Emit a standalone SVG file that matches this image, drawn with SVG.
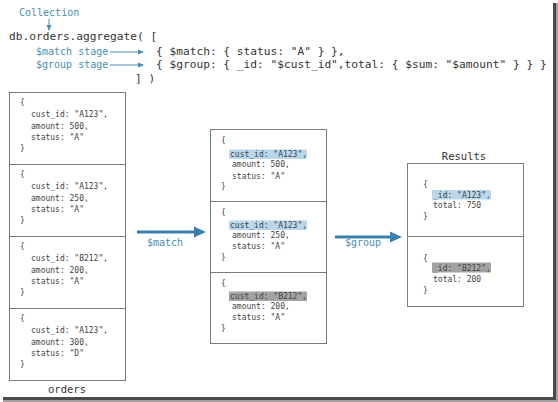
<svg xmlns="http://www.w3.org/2000/svg" width="558" height="402" viewBox="0 0 558 402">
<style>
.code{font-family:"DejaVu Sans Mono","Liberation Mono",monospace;font-size:11.2px;fill:#333}
.lbl{font-family:"DejaVu Sans Mono","Liberation Mono",monospace;font-size:10px;fill:#4a8db5}
.doc{font-family:"DejaVu Sans Mono","Liberation Mono",monospace;font-size:8px;fill:#444}
.title{font-family:"DejaVu Sans Mono","Liberation Mono",monospace;font-size:10.5px;fill:#333}
.box{fill:#fff;stroke:#7a7a7a;stroke-width:1}
.hb{fill:#b8d7ec}
.hg{fill:#a3a3a3}
.thin{stroke:#4a8db5;stroke-width:1;fill:none}
.thick{stroke:#3a80ad;stroke-width:3;fill:none}
</style>
<defs>
<marker id="sm" markerWidth="6" markerHeight="6" refX="5" refY="3" orient="auto" markerUnits="userSpaceOnUse">
<path d="M0,0.5 L6,3 L0,5.5 Z" fill="#4a8db5"/>
</marker>
</defs>
<rect width="558" height="402" fill="#fff"/>
<!-- frame shadow -->
<rect x="553" y="3" width="3" height="397" fill="#4a4a4a"/>
<rect x="556" y="3" width="2" height="397" fill="#a0a0a0"/>
<rect x="3" y="397" width="553" height="3" fill="#4a4a4a"/>
<rect x="3" y="400" width="555" height="2" fill="#a0a0a0"/>

<g id="header">
<text class="lbl" x="19" y="16">Collection</text>
<text class="code" x="9" y="40">db.orders.aggregate( [</text>
<text class="lbl" x="36" y="55">$match stage</text>
<text class="lbl" x="36" y="68">$group stage</text>
<text class="code" x="156" y="55">{ $match: { status: "A" } },</text>
<text class="code" x="156" y="68">{ $group: { _id: "$cust_id",total: { $sum: "$amount" } } }</text>
<text class="code" x="135" y="82">] )</text>
</g>

<g id="orders">
<rect class="box" x="9.5" y="92.5" width="116" height="288"/>
<line x1="9.5" y1="164.5" x2="125.5" y2="164.5" stroke="#7a7a7a"/>
<line x1="9.5" y1="236.5" x2="125.5" y2="236.5" stroke="#7a7a7a"/>
<line x1="9.5" y1="308.5" x2="125.5" y2="308.5" stroke="#7a7a7a"/>
<g class="doc">
<text x="20" y="105">{</text><text x="31" y="117">cust_id: "A123",</text><text x="31" y="129">amount: 500,</text><text x="31" y="140">status: "A"</text><text x="20" y="151">}</text>
<text x="20" y="177">{</text><text x="31" y="189">cust_id: "A123",</text><text x="31" y="201">amount: 250,</text><text x="31" y="212">status: "A"</text><text x="20" y="223">}</text>
<text x="20" y="249">{</text><text x="31" y="261">cust_id: "B212",</text><text x="31" y="273">amount: 200,</text><text x="31" y="284">status: "A"</text><text x="20" y="295">}</text>
<text x="20" y="321">{</text><text x="31" y="333">cust_id: "A123",</text><text x="31" y="345">amount: 300,</text><text x="31" y="356">status: "D"</text><text x="20" y="367">}</text>
</g>
<text class="title" x="67" y="393" text-anchor="middle">orders</text>
</g>

<g id="filtered">
<rect class="box" x="210.5" y="129.5" width="116" height="214"/>
<line x1="210.5" y1="201.5" x2="326.5" y2="201.5" stroke="#7a7a7a"/>
<line x1="210.5" y1="272.5" x2="326.5" y2="272.5" stroke="#7a7a7a"/>
<rect class="hb" x="229" y="149.5" width="78" height="9.5"/>
<rect class="hb" x="229" y="220.5" width="78" height="9.5"/>
<rect class="hg" x="229" y="291.5" width="78" height="9.5"/>
<g class="doc">
<text x="221" y="143">{</text><text x="230" y="157">cust_id: "A123",</text><text x="232" y="167">amount: 500,</text><text x="232" y="179">status: "A"</text><text x="221" y="189">}</text>
<text x="221" y="215">{</text><text x="230" y="228">cust_id: "A123",</text><text x="232" y="238">amount: 250,</text><text x="232" y="249">status: "A"</text><text x="221" y="260">}</text>
<text x="221" y="286">{</text><text x="230" y="299">cust_id: "B212",</text><text x="232" y="309">amount: 200,</text><text x="232" y="320">status: "A"</text><text x="221" y="331">}</text>
</g>
</g>

<g id="results">
<text class="title" x="464" y="160" text-anchor="middle">Results</text>
<rect class="box" x="407.5" y="163.5" width="116" height="143"/>
<line x1="407.5" y1="236.5" x2="523.5" y2="236.5" stroke="#7a7a7a"/>
<rect class="hb" x="432" y="190" width="59" height="9.5"/>
<rect class="hg" x="432" y="262.5" width="59" height="10"/>
<g class="doc">
<text x="423" y="187">{</text><text x="433" y="198">_id: "A123",</text><text x="433" y="208">total: 750</text><text x="423" y="219">}</text>
<text x="423" y="261">{</text><text x="433" y="271">_id: "B212",</text><text x="433" y="282">total: 200</text><text x="423" y="293">}</text>
</g>
</g>

<g id="connectors">
<line class="thin" x1="49" y1="19" x2="49" y2="30" marker-end="url(#sm)"/>
<line class="thin" x1="110" y1="52" x2="143" y2="52" marker-end="url(#sm)"/>
<line class="thin" x1="110" y1="65" x2="143" y2="65" marker-end="url(#sm)"/>
<line class="thick" x1="137" y1="232" x2="196" y2="232"/>
<polygon points="194,226.5 206,232 194,237.5" fill="#3a80ad"/>
<line class="thick" x1="335" y1="237" x2="392" y2="237"/>
<polygon points="390,231.5 402,237 390,242.5" fill="#3a80ad"/>
<text class="lbl" x="147" y="246">$match</text>
<text class="lbl" x="345" y="246">$group</text>
</g>
</svg>
